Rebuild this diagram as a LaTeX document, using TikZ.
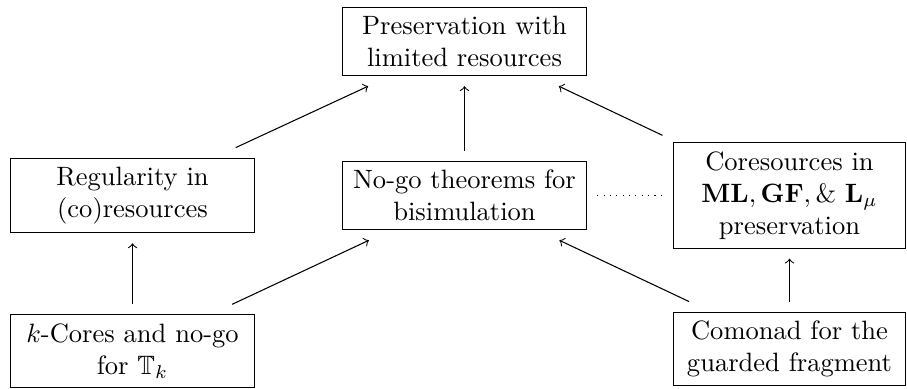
\documentclass[tikz,border=0pt]{standalone}
\usepackage{amssymb, amsmath}
\usepackage{tikz}

\begin{document}
\begin{tikzpicture}[x=0.377pt,y=0.377pt,yscale=-1.0,xscale=1.0,
  topic/.style={draw, align=center, text width=3cm, inner sep=3.33pt, outer sep=4pt},
  link/.style={->}]
\useasboundingbox (0,0) rectangle (907,389);
\node [topic] (pres) at (464.5,41.5) {Preservation with\\ limited resources};
\node [topic] (reg) at (132.5,195.5) {Regularity in\\ (co)resources};
\node [topic] (nogo) at (464.5,195.5) {No-go theorems for\\ bisimulation};
\node [topic, text width=2.85cm] (cores) at (789.5,195.5) {Coresources in\\ $\mathbf{ML}, \mathbf{GF}, \&\ \mathbf{L}_\mu$\\ preservation};
\node [topic] (kcores) at (132.5,351) {$k$-Cores and no-go\\ for $\mathbb{T}_k$};
\node [topic, text width=2.85cm] (comon) at (789.5,349) {Comonad for the\\ guarded fragment};
\draw [link] (reg) -- (pres);
\draw [link] (nogo) -- (pres);
\draw [link] (cores) -- (pres);
\draw [link] (kcores) -- (reg);
\draw [link] (kcores) -- (nogo);
\draw [link] (comon) -- (nogo);
\draw [link] (comon) -- (cores);
\draw [dotted] (nogo) -- (cores);
\end{tikzpicture}
\end{document}
